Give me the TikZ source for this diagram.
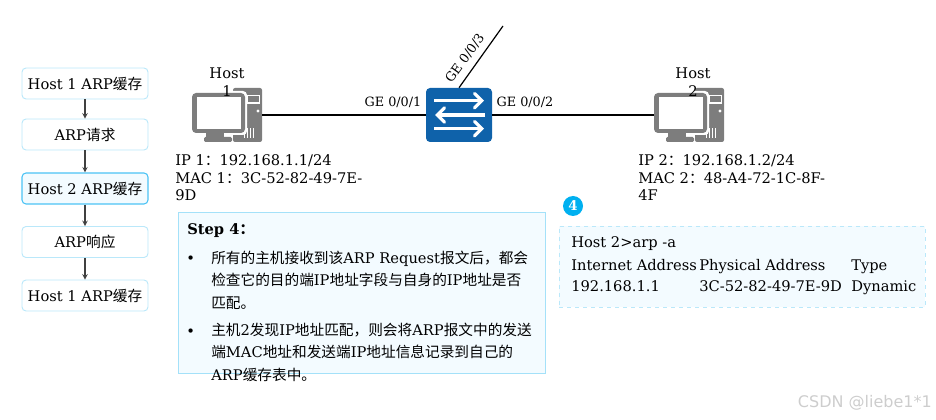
\documentclass[tikz,border=0pt]{standalone}
\usepackage{fontspec}
\setmainfont{DejaVu Serif}
\setsansfont{DejaVu Sans}
\newfontfamily\cjk{Noto Sans CJK SC}
\newcommand{\zh}[1]{{\cjk #1}}
\usetikzlibrary{arrows, positioning}
\definecolor{Borde}{RGB}{186, 232, 250}
\definecolor{BordeFuerte}{RGB}{75, 195, 245}
\definecolor{Fondo}{RGB}{243, 251, 255}
\definecolor{Badge}{RGB}{0, 176, 240}
\definecolor{Switch}{RGB}{15, 98, 170}
\definecolor{Icono}{RGB}{125, 125, 125}
\definecolor{Marca}{RGB}{205, 205, 205}
\tikzset{
    hostpc/.pic={
        % tower
        \fill[Icono, rounded corners=1.5pt] (6,-27) rectangle (35,27);
        \fill[white] (19,-20) rectangle (33,-11);
        \fill[Icono] (20.5,-18.5) rectangle (31.5,-12.5);
        \fill[white] (31,-4) circle (1.7);
        \foreach \vx in {17,20,23,26}
            \fill[white] (\vx,13) rectangle ++(1.2,10);
        % monitor
        \fill[white, rounded corners=3pt] (-37,-24) rectangle (20,20);
        \fill[Icono, rounded corners=3pt] (-35,-22) rectangle (18,18);
        \fill[white] (-30,-18) rectangle (14,14);
        \fill[Icono] (-21,18) rectangle (-3,23);
        \fill[Icono, rounded corners=1pt] (-23,22) rectangle (5,27);
    }
}
\begin{document}
\begin{tikzpicture}[
        x=0.75pt, y=-0.75pt,
        flowbox/.style={
            rectangle,
            draw=Borde,
            fill=white,
            rounded corners=3pt,
            line width=0.7pt,
            minimum width=94.5pt,
            minimum height=23.25pt,
            inner sep=0pt,
            font=\fontsize{11}{13}\selectfont
        },
        flowact/.style={
            flowbox,
            draw=BordeFuerte,
            fill=Fondo,
            line width=0.8pt
        },
        arrow/.style={
            ->,
            >=stealth,
            line width=0.8pt,
            draw=black!75
        },
        hostbox/.style={
            rectangle,
            minimum width=52.5pt,
            minimum height=40.5pt,
            inner sep=0pt
        },
        swbox/.style={
            rectangle,
            fill=Switch,
            rounded corners=3pt,
            minimum width=49.5pt,
            minimum height=40.5pt,
            inner sep=0pt
        },
        link/.style={
            line width=1.1pt,
            draw=black
        },
        swarrow/.style={
            ->,
            >=angle 90,
            line width=2.4pt,
            draw=white
        },
        txt/.style={
            align=left,
            anchor=north west,
            inner sep=0pt,
            font=\fontsize{11}{13.2}\selectfont
        },
        port/.style={
            inner sep=0pt,
            font=\fontsize{9.6}{11}\selectfont
        },
        para/.style={
            align=left,
            anchor=north west,
            inner sep=0pt,
            font=\fontsize{11}{16.7}\selectfont
        },
        row/.style={
            anchor=base west,
            inner sep=0pt,
            font=\fontsize{11}{13}\selectfont
        }
    ]
        \useasboundingbox (0,0) rectangle (936,420);

        % Flow on the left
        \node[flowbox] (cache1) at (85,83.5) {Host 1 ARP\zh{缓存}};
        \node[flowbox] (req) at (85,134.5) {ARP\zh{请求}};
        \node[flowact] (cache2) at (85,188.5) {Host 2 ARP\zh{缓存}};
        \node[flowbox] (resp) at (85,242) {ARP\zh{响应}};
        \node[flowbox] (cache3) at (85,295.5) {Host 1 ARP\zh{缓存}};
        \draw[arrow] (cache1) -- (req);
        \draw[arrow] (req) -- (cache2);
        \draw[arrow] (cache2) -- (resp);
        \draw[arrow] (resp) -- (cache3);

        % Topology
        \node[hostbox] (host1) at (227,115) {};
        \node[hostbox] (host2) at (689,115) {};
        \node[swbox] (sw) at (459,115) {};
        \coordinate (uplink) at (503,26);
        \pic at (host1) {hostpc};
        \pic at (host2) {hostpc};
        \draw[link] (host1) -- (sw);
        \draw[link] (sw) -- (host2);
        \draw[link, line width=0.9pt] (sw.north) -- (uplink);
        \draw[swarrow] (434,100.7) -- (484,100.7);
        \draw[swarrow] (485,115) -- (435,115);
        \draw[swarrow] (434,128.7) -- (484,128.7);

        \node[port] (ge1) at (393,102) {GE 0/0/1};
        \node[port] (ge2) at (525,102) {GE 0/0/2};
        \node[port, rotate=54] (ge3) at (465,58) {GE 0/0/3};

        \node[txt, align=center, anchor=center] (name1) at (227,82) {Host\\1};
        \node[txt, align=center, anchor=center] (name2) at (693,82) {Host\\2};
        \node[txt] (info1) at (175,154.5) {IP 1\zh{：}192.168.1.1/24\\MAC 1\zh{：}3C-52-82-49-7E-\\9D};
        \node[txt] (info2) at (638,154.5) {IP 2\zh{：}192.168.1.2/24\\MAC 2\zh{：}48-A4-72-1C-8F-\\4F};

        % Step box
        \node[rectangle, draw=Borde!80!BordeFuerte, fill=Fondo, line width=0.7pt, minimum width=275.25pt, minimum height=120.75pt, inner sep=0pt] (stepbox) at (361.5,292.5) {};
        \node[para, font=\fontsize{11}{13}\selectfont\bfseries] (steptitle) at (187,223) {Step 4\zh{：}};
        \node[para] (bul1) at (186,256) {•};
        \node[para] (par1) at (211,251) {\zh{所有的主机接收到该}ARP Request\zh{报文后，都会}\\\zh{检查它的目的端}IP\zh{地址字段与自身的}IP\zh{地址是否}\\\zh{匹配。}};
        \node[para] (bul2) at (186,329) {•};
        \node[para] (par2) at (211,323) {\zh{主机}2\zh{发现}IP\zh{地址匹配，则会将}ARP\zh{报文中的发送}\\\zh{端}MAC\zh{地址和发送端}IP\zh{地址信息记录到自己的}\\ARP\zh{缓存表中。}};

        % Arp table
        \node[circle, fill=Badge, text=white, minimum size=15pt, inner sep=0pt, font=\fontsize{10}{11}\selectfont\bfseries] (badge) at (573,206) {4};
        \node[rectangle, draw=Borde, fill=Fondo, dashed, line width=0.7pt, minimum width=274.5pt, minimum height=60.75pt, inner sep=0pt] (arpbox) at (742,266.5) {};
        \node[row] (cmd) at (571,248) {Host 2>arp -a};
        \node[row] (head1) at (571,271) {Internet Address};
        \node[row] (head2) at (699,271) {Physical Address};
        \node[row] (head3) at (851,271) {Type};
        \node[row] (ip) at (571,292) {192.168.1.1};
        \node[row] (mac) at (699,292) {3C-52-82-49-7E-9D};
        \node[row] (kind) at (851,292) {Dynamic};

        \node[anchor=east, inner sep=0pt, text=Marca, font=\sffamily\fontsize{12}{14}\selectfont] (mark) at (932,403) {CSDN @liebe1*1};
    \end{tikzpicture}
\end{document}
